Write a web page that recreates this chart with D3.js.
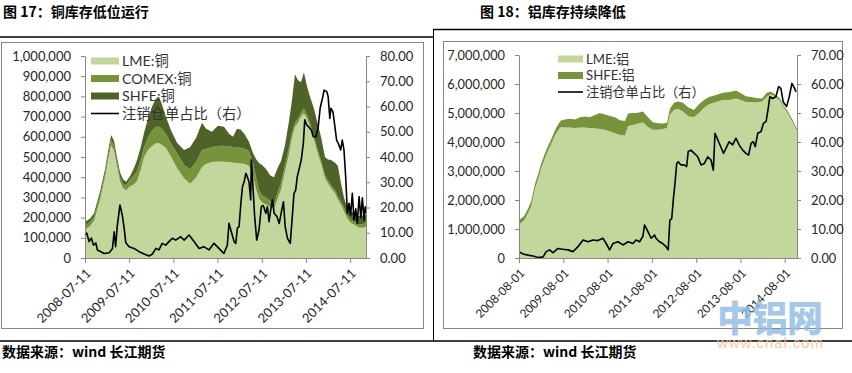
<!DOCTYPE html>
<html>
<head>
<meta charset="utf-8">
<script src="https://cdn.jsdelivr.net/npm/d3@7"></script>
<style>
  body { margin: 0; background: #fff; }
  svg { display: block; }
</style>
</head>
<body>
<div id="container"></div>
<script>
// ---- copper (图17) ----
const cuDates = ["2008-07-11","2008-08-22","2008-09-24","2008-11-13","2008-12-24","2009-01-18","2009-02-12","2009-03-08","2009-04-01","2009-04-26","2009-05-21","2009-06-15","2009-07-18","2009-08-20","2009-09-14","2009-10-17","2009-11-11","2009-12-14","2010-01-16","2010-02-18","2010-03-14","2010-04-08","2010-05-10","2010-06-21","2010-08-10","2010-10-07","2010-11-26","2011-01-15","2011-03-05","2011-04-07","2011-05-26","2011-07-14","2011-09-02","2011-10-14","2011-11-16","2011-12-19","2012-01-21","2012-02-23","2012-03-27","2012-04-29","2012-05-24","2012-06-18","2012-07-13","2012-08-15","2012-09-17","2012-10-20","2012-11-22","2012-12-17","2013-01-19","2013-02-21","2013-03-17","2013-04-11","2013-05-06","2013-05-31","2013-06-24","2013-07-19","2013-08-13","2013-09-15","2013-10-18","2013-11-12","2013-12-15","2014-01-09","2014-02-03","2014-03-08","2014-04-01","2014-04-26","2014-05-21","2014-06-15","2014-07-18","2014-08-20","2014-09-22","2014-10-25","2014-11-19"];
const cuLME = [138000,158000,185000,290000,400000,485000,559000,530000,455000,380000,345000,335000,355000,365000,380000,440000,500000,535000,555000,568000,568000,560000,545000,502000,445000,395000,368000,398000,450000,465000,475000,478000,477000,475000,472000,470000,468000,465000,455000,410000,340000,295000,275000,265000,255000,240000,300000,338000,430000,515000,595000,650000,670000,700000,716000,690000,652000,585000,515000,469000,395000,370000,345000,320000,290000,263000,232000,198000,173000,163000,150000,150000,155000];
const cuCOMEX = [22000,20000,20000,20000,20000,23000,25000,25000,20000,20000,23000,25000,33000,45000,50000,50000,50000,60000,75000,82000,82000,80000,70000,66000,73000,67000,70000,77000,85000,75000,73000,77000,79000,77000,78000,78000,77000,75000,75000,60000,60000,40000,35000,35000,27000,25000,30000,34000,30000,35000,25000,20000,20000,20000,24000,20000,18000,15000,15000,16000,15000,15000,15000,15000,15000,17000,18000,17000,17000,17000,15000,18000,17000];
const cuSHFE = [18000,17000,17000,20000,20000,22000,25000,25000,25000,25000,22000,18000,17000,35000,55000,65000,70000,95000,120000,140000,150000,120000,85000,64000,52000,73000,110000,120000,135000,100000,77000,100000,94000,63000,50000,92000,90000,70000,45000,50000,90000,135000,150000,140000,128000,135000,120000,108000,100000,130000,160000,240000,190000,150000,180000,140000,130000,140000,130000,115000,90000,103000,125000,137000,150000,90000,50000,35000,40000,42000,43000,42000,41000];
const cuRatioDates = ["2008-07-11","2008-07-25","2008-08-14","2008-09-02","2008-09-19","2008-10-09","2008-10-21","2008-11-19","2008-12-16","2009-01-27","2009-02-23","2009-03-09","2009-03-21","2009-04-03","2009-04-26","2009-05-15","2009-05-29","2009-06-13","2009-07-10","2009-08-20","2009-10-01","2009-11-12","2009-12-23","2010-01-19","2010-02-17","2010-03-14","2010-04-10","2010-05-09","2010-06-05","2010-07-02","2010-07-30","2010-09-10","2010-10-08","2010-11-18","2010-12-29","2011-02-09","2011-03-20","2011-05-01","2011-06-12","2011-07-23","2011-09-02","2011-09-30","2011-10-14","2011-11-02","2011-11-25","2011-12-09","2011-12-22","2012-01-05","2012-01-20","2012-02-02","2012-02-16","2012-03-01","2012-03-13","2012-03-27","2012-04-10","2012-04-16","2012-05-02","2012-05-13","2012-05-30","2012-06-18","2012-07-07","2012-07-23","2012-08-13","2012-08-26","2012-09-09","2012-09-24","2012-10-07","2012-10-21","2012-11-13","2012-12-02","2012-12-20","2013-01-06","2013-01-20","2013-02-08","2013-03-03","2013-03-20","2013-04-03","2013-04-17","2013-04-30","2013-05-23","2013-06-02","2013-06-19","2013-07-01","2013-07-17","2013-08-05","2013-08-24","2013-09-10","2013-09-30","2013-10-19","2013-11-05","2013-11-24","2013-12-08","2013-12-30","2014-01-10","2014-01-24","2014-02-02","2014-02-19","2014-03-07","2014-03-21","2014-04-04","2014-04-24","2014-05-07","2014-05-21","2014-06-04","2014-06-18","2014-07-02","2014-07-15","2014-07-29","2014-08-12","2014-08-26","2014-09-08","2014-09-23","2014-10-07","2014-10-20","2014-11-03","2014-11-12","2014-11-19"];
const cuRatio = [9.1,9.9,6.5,7.9,5.1,5.9,3.2,2.5,1.8,2.1,3.8,10.4,4.5,12.4,21.0,17.0,12.4,6.1,4.5,3.8,2.5,1.6,0.8,1.6,3.8,3.2,5.8,5.1,6.5,7.8,7.1,8.4,7.1,9.1,6.5,3.8,4.5,3.2,5.8,3.8,1.8,5.1,13.7,10.4,6.5,5.8,11.8,12.4,21.7,28.2,30.2,33.5,32.2,30.2,23.0,38.8,25.6,16.4,7.1,11.1,20.3,20.8,17.7,20.3,14.4,19.5,23.0,17.7,16.4,13.7,18.3,22.3,12.4,7.8,5.8,16.4,25.6,26.9,32.2,36.8,38.8,45.4,54.7,52.7,51.8,50.7,48.0,48.0,51.4,59.3,63.2,66.5,65.9,64.0,55.3,59.3,57.9,52.0,46.7,45.4,42.8,46.7,42.8,32.2,17.7,21.7,17.0,25.6,15.0,19.5,13.7,24.3,15.9,23.8,15.0,20.3,17.7];
const cuXTicks = ["2008-07-11","2009-07-11","2010-07-11","2011-07-11","2012-07-11","2013-07-11","2014-07-11"];
const cuYTicks = [0,100000,200000,300000,400000,500000,600000,700000,800000,900000,1000000];
const cuY2Ticks = [0,10,20,30,40,50,60,70,80];

// ---- aluminium (图18) ----
const alDates = ["2008-08-01","2008-09-12","2008-10-14","2008-11-09","2008-12-11","2009-01-06","2009-01-30","2009-03-02","2009-03-27","2009-04-29","2009-05-24","2009-06-18","2009-07-13","2009-08-15","2009-09-26","2009-11-06","2009-12-17","2010-01-28","2010-03-08","2010-04-19","2010-05-30","2010-07-10","2010-08-21","2010-10-01","2010-11-12","2010-12-23","2011-01-17","2011-02-19","2011-03-30","2011-05-19","2011-06-30","2011-08-10","2011-09-21","2011-11-01","2011-12-04","2011-12-28","2012-01-31","2012-03-03","2012-04-14","2012-05-25","2012-07-13","2012-08-24","2012-10-04","2012-11-15","2013-01-12","2013-03-09","2013-05-06","2013-06-25","2013-08-05","2013-09-15","2013-10-27","2013-12-07","2014-01-26","2014-03-06","2014-04-09","2014-05-20","2014-06-22","2014-07-25","2014-08-27","2014-09-29","2014-11-10"];
const alLME = [1150000,1300000,1540000,1780000,2380000,2720000,3080000,3430000,3680000,3980000,4220000,4400000,4520000,4500000,4500000,4480000,4500000,4500000,4470000,4470000,4450000,4420000,4360000,4300000,4240000,4220000,4550000,4580000,4620000,4680000,4520000,4420000,4420000,4450000,4480000,4950000,5100000,5150000,5050000,4900000,4850000,5000000,5180000,5300000,5380000,5450000,5450000,5500000,5450000,5380000,5380000,5360000,5400000,5550000,5650000,5550000,5420000,5180000,4980000,4720000,4380000];
const alSHFE = [150000,150000,160000,170000,170000,180000,170000,170000,170000,170000,180000,200000,220000,280000,300000,300000,350000,380000,380000,460000,550000,530000,540000,550000,510000,500000,430000,420000,380000,370000,330000,260000,230000,190000,180000,200000,250000,250000,300000,300000,250000,300000,270000,250000,240000,250000,270000,280000,230000,200000,170000,160000,100000,150000,90000,70000,80000,70000,70000,80000,70000];
const alRatioDates = ["2008-08-01","2008-09-03","2008-10-14","2008-11-25","2009-01-06","2009-02-16","2009-03-13","2009-04-11","2009-05-07","2009-06-18","2009-07-29","2009-09-09","2009-10-20","2009-11-30","2010-01-11","2010-02-22","2010-04-02","2010-05-13","2010-06-24","2010-07-21","2010-08-18","2010-09-15","2010-10-26","2010-12-06","2011-01-17","2011-02-27","2011-03-24","2011-04-22","2011-05-19","2011-06-02","2011-06-30","2011-07-26","2011-08-24","2011-09-04","2011-10-01","2011-10-29","2011-11-26","2011-12-14","2011-12-28","2012-01-12","2012-01-25","2012-02-08","2012-02-22","2012-03-06","2012-03-28","2012-04-24","2012-05-14","2012-05-27","2012-06-19","2012-07-16","2012-08-13","2012-09-10","2012-10-07","2012-11-04","2012-12-01","2012-12-20","2013-01-03","2013-02-08","2013-03-14","2013-04-03","2013-04-30","2013-05-28","2013-06-25","2013-07-21","2013-08-19","2013-09-15","2013-10-07","2013-10-27","2013-11-15","2013-12-01","2013-12-21","2014-01-18","2014-02-06","2014-02-28","2014-03-20","2014-03-31","2014-04-23","2014-05-20","2014-06-11","2014-06-30","2014-07-19","2014-08-16","2014-09-07","2014-09-29","2014-10-21","2014-11-02"];
const alRatio = [2.2,1.4,1.0,0.7,0.2,0.4,2.2,2.8,1.8,3.3,3.0,2.8,2.2,3.9,6.2,5.6,6.2,6.0,6.8,5.0,2.8,5.0,5.6,4.5,5.6,5.0,6.2,5.6,7.4,11.4,9.1,6.8,7.9,6.8,5.7,5.0,3.9,2.8,13.1,13.6,20.0,25.7,32.6,33.2,32.1,32.1,31.5,36.7,37.2,36.1,34.9,32.1,32.6,34.9,33.8,30.3,43.0,39.5,36.1,37.8,40.1,39.0,41.3,39.0,37.2,36.1,35.5,39.5,40.1,38.4,43.0,43.6,46.4,47.0,52.2,55.6,55.0,55.6,59.1,58.5,53.9,52.2,55.6,60.2,58.5,57.3];
const alXTicks = ["2008-08-01","2009-08-01","2010-08-01","2011-08-01","2012-08-01","2013-08-01","2014-08-01"];
const alYTicks = [0,1000000,2000000,3000000,4000000,5000000,6000000,7000000];
const alY2Ticks = [0,10,20,30,40,50,60,70];

const latin = "Lato, 'Noto Sans CJK SC', sans-serif";
const cjk = "'Noto Sans CJK SC', sans-serif";
const parseDate = d3.timeParse("%Y-%m-%d");

const svg = d3.select("#container")
    .append("svg")
    .attr("width", 852)
    .attr("height", 373)

svg.append("rect").attr("width", 852).attr("height", 373).attr("fill", "#fff")

function styleAxis(g, fontSize) {
    g.attr("font-family", latin).attr("font-size", fontSize)
    g.select(".domain").attr("stroke", "#868686")
    g.selectAll(".tick line").attr("stroke", "#868686")
    g.selectAll(".tick text").attr("fill", "#262626")
}

function drawPanel(p) {
    const x = d3.scaleTime().domain([parseDate(p.start), parseDate(p.end)]).range([p.left, p.right]);
    const y = d3.scaleLinear().domain([0, p.yTicks[p.yTicks.length - 1]]).range([p.bottom, p.top]);
    const y2 = d3.scaleLinear().domain([0, p.y2Ticks[p.y2Ticks.length - 1]]).range([p.bottom, p.top]);

    // chart frame
    svg.append("rect")
        .attr("x", p.frame[0] + 0.5).attr("y", p.frame[1] + 0.5)
        .attr("width", p.frame[2] - p.frame[0]).attr("height", p.frame[3] - p.frame[1])
        .attr("fill", "none").attr("stroke", "#868686")

    // stacked areas
    const rows = p.dates.map((d, i) => {
        const row = { date: parseDate(d) };
        p.series.forEach(s => row[s.name] = s.values[i]);
        return row;
    });
    const layers = d3.stack().keys(p.series.map(s => s.name))(rows);
    const area = d3.area()
        .x(d => x(d.data.date))
        .y0(d => y(d[0]))
        .y1(d => y(d[1]))
    svg.append("g")
        .selectAll("path")
        .data(layers)
        .enter().append("path")
        .attr("d", area)
        .attr("fill", (d, i) => p.series[i].color)

    // ratio line (right axis)
    const line = d3.line().x(d => x(d[0])).y(d => y2(d[1]));
    svg.append("path")
        .datum(p.ratioDates.map((d, i) => [parseDate(d), p.ratio[i]]))
        .attr("d", line)
        .attr("fill", "none")
        .attr("stroke", "#000")
        .attr("stroke-width", 1.6)
        .attr("stroke-linejoin", "round")

    // axes
    const gl = svg.append("g")
        .attr("transform", `translate(${p.left},0)`)
        .call(d3.axisLeft(y).tickValues(p.yTicks).tickFormat(d3.format(",")).tickSize(4).tickSizeOuter(0).tickPadding(10))
    styleAxis(gl, p.fontSize)

    const gr = svg.append("g")
        .attr("transform", `translate(${p.right},0)`)
        .call(d3.axisRight(y2).tickValues(p.y2Ticks).tickFormat(d3.format(".2f")).tickSize(4).tickSizeOuter(0).tickPadding(10))
    styleAxis(gr, p.fontSize)

    const gb = svg.append("g")
        .attr("transform", `translate(0,${p.bottom})`)
        .call(d3.axisBottom(x).tickValues(p.xTicks.map(parseDate)).tickFormat(d3.timeFormat("%Y-%m-%d")).tickSize(5).tickSizeOuter(0))
    styleAxis(gb, p.dateFontSize)
    gb.selectAll(".tick text")
        .attr("x", 0).attr("y", 0).attr("dy", "0.35em")
        .attr("text-anchor", "end")
        .attr("transform", "translate(3,13) rotate(-45)")

    // legend
    const lg = svg.append("g").attr("font-family", latin).attr("font-size", p.legendSize).attr("fill", "#333")
    p.legend.forEach((item, i) => {
        const cy = p.legendY[i];
        if (item.color) {
            lg.append("rect").attr("x", p.legendX).attr("y", cy - 3.5).attr("width", p.legendW).attr("height", 7).attr("fill", item.color)
        } else {
            lg.append("line").attr("x1", p.legendX).attr("x2", p.legendX + p.legendW).attr("y1", cy).attr("y2", cy).attr("stroke", "#000").attr("stroke-width", 1.6)
        }
        lg.append("text").attr("x", p.legendX + p.legendW + 3).attr("y", cy).attr("dy", "0.36em").text(item.label)
    });
}

drawPanel({
    frame: [1, 42, 423, 328],
    left: 85, right: 366, top: 56, bottom: 258,
    start: "2008-07-11", end: "2014-11-19",
    dates: cuDates,
    series: [
        { name: "LME:铜", values: cuLME, color: "#c3d69b" },
        { name: "COMEX:铜", values: cuCOMEX, color: "#77933c" },
        { name: "SHFE:铜", values: cuSHFE, color: "#4f6228" }
    ],
    ratioDates: cuRatioDates, ratio: cuRatio,
    xTicks: cuXTicks, yTicks: cuYTicks, y2Ticks: cuY2Ticks,
    fontSize: 13, dateFontSize: 13,
    legend: [
        { label: "LME:铜", color: "#c3d69b" },
        { label: "COMEX:铜", color: "#77933c" },
        { label: "SHFE:铜", color: "#4f6228" },
        { label: "注销仓单占比（右）" }
    ],
    legendX: 91, legendW: 28, legendY: [61, 78.5, 96, 113.5], legendSize: 14.3
})

drawPanel({
    frame: [443, 41, 842, 328],
    left: 519, right: 797, top: 55, bottom: 258,
    start: "2008-08-01", end: "2014-11-10",
    dates: alDates,
    series: [
        { name: "LME:铝", values: alLME, color: "#c3d69b" },
        { name: "SHFE:铝", values: alSHFE, color: "#77933c" }
    ],
    ratioDates: alRatioDates, ratio: alRatio,
    xTicks: alXTicks, yTicks: alYTicks, y2Ticks: alY2Ticks,
    fontSize: 12.8, dateFontSize: 11.8,
    legend: [
        { label: "LME:铝", color: "#c3d69b" },
        { label: "SHFE:铝", color: "#77933c" },
        { label: "注销仓单占比（右）" }
    ],
    legendX: 558, legendW: 25, legendY: [59, 75.5, 92], legendSize: 13.2
})

// page frame lines, titles and sources
svg.append("line").attr("x1", 0).attr("x2", 433).attr("y1", 37).attr("y2", 37).attr("stroke", "#000").attr("stroke-width", 1.5)
svg.append("line").attr("x1", 433).attr("x2", 852).attr("y1", 29.5).attr("y2", 29.5).attr("stroke", "#000").attr("stroke-width", 1.5)
svg.append("line").attr("x1", 433.5).attr("x2", 433.5).attr("y1", 29).attr("y2", 341).attr("stroke", "#000").attr("stroke-width", 1)
svg.append("line").attr("x1", 0).attr("x2", 852).attr("y1", 341).attr("y2", 341).attr("stroke", "#000").attr("stroke-width", 1.5)

const titles = [
    { x: 3, text: "图 17：铜库存低位运行" },
    { x: 480, text: "图 18：铝库存持续降低" }
];
titles.forEach(t => {
    svg.append("text").attr("x", t.x).attr("y", 16.5).text(t.text)
        .attr("font-family", cjk).attr("font-weight", 700).attr("font-size", 14).attr("fill", "#000")
});
[2, 473].forEach(x0 => {
    svg.append("text").attr("x", x0).attr("y", 357).text("数据来源：wind 长江期货")
        .attr("font-family", cjk).attr("font-weight", 700).attr("font-size", 14).attr("fill", "#000")
});

// watermark
svg.append("text").attr("x", 717).attr("y", 332).text("中铝网")
    .attr("font-family", cjk).attr("font-weight", 900).attr("font-size", 36)
    .attr("textLength", 106).attr("fill", "#8fbbe3").attr("opacity", 0.8)
svg.append("text").attr("x", 717).attr("y", 348).text("www.cnal.com")
    .attr("font-family", "'Liberation Sans', sans-serif").attr("font-size", 15)
    .attr("textLength", 106).attr("fill", "#f4bf93").attr("opacity", 0.85)
</script>
</body>
</html>
